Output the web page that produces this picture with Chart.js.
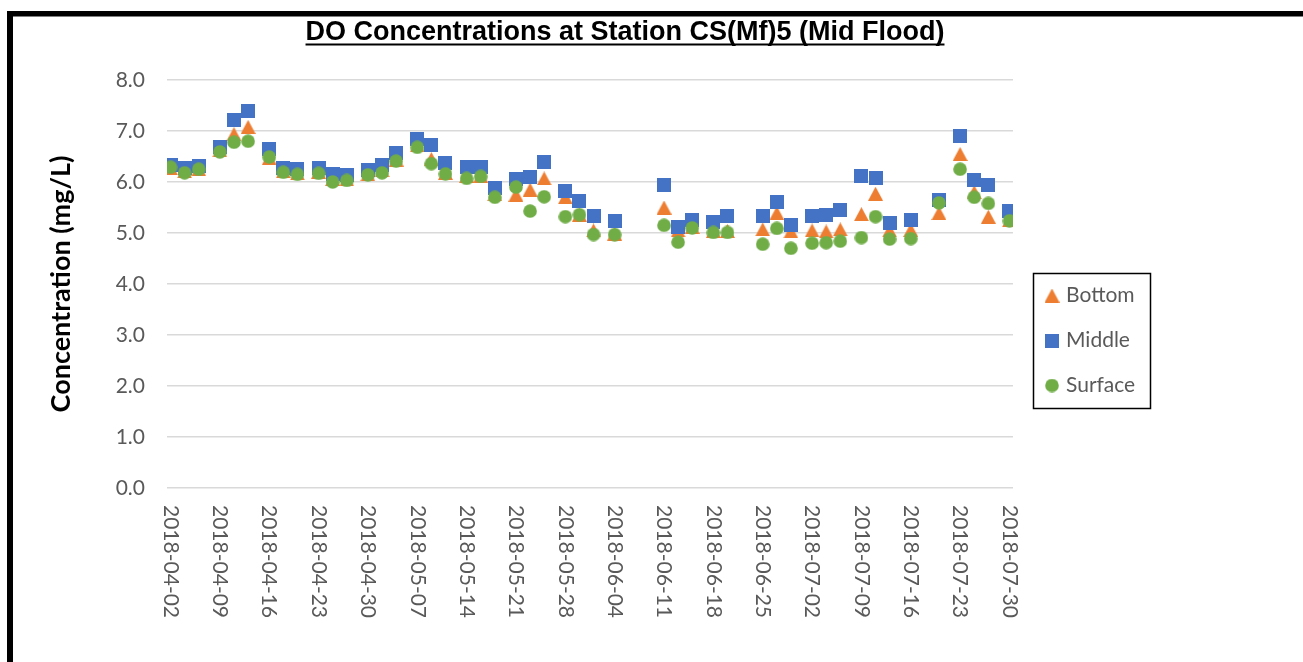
<!DOCTYPE html>
<html>
<head>
<meta charset="utf-8">
<title>DO Concentrations at Station CS(Mf)5 (Mid Flood)</title>
<script src="https://cdn.jsdelivr.net/npm/chart.js@4.4.1/dist/chart.umd.min.js"></script>
<style>
  html, body { margin: 0; padding: 0; background: #ffffff; }
  #wrap { width: 1303px; height: 662px; position: relative; }
</style>
</head>
<body>
<div id="wrap"><canvas id="chart" width="1303" height="662"></canvas></div>
<script>
// Sampling dates (mid-flood surveys)
const sampleDates = [
  '2018-04-02','2018-04-04','2018-04-06','2018-04-09','2018-04-11','2018-04-13',
  '2018-04-16','2018-04-18','2018-04-20','2018-04-23','2018-04-25','2018-04-27',
  '2018-04-30','2018-05-02','2018-05-04','2018-05-07','2018-05-09','2018-05-11',
  '2018-05-14','2018-05-16','2018-05-18','2018-05-21','2018-05-23','2018-05-25',
  '2018-05-28','2018-05-30','2018-06-01','2018-06-04','2018-06-11','2018-06-13',
  '2018-06-15','2018-06-18','2018-06-20','2018-06-25','2018-06-27','2018-06-29',
  '2018-07-02','2018-07-04','2018-07-06','2018-07-09','2018-07-11','2018-07-13',
  '2018-07-16','2018-07-20','2018-07-23','2018-07-25','2018-07-27','2018-07-30'
];

// Dissolved oxygen, mg/L
const bottomDO = [
  6.27, 6.21, 6.25, 6.62, 6.94, 7.08, 6.47, 6.21, 6.17, 6.20, 6.06, 6.05,
  6.15, 6.23, 6.44, 6.72, 6.45, 6.18, 6.12, 6.12, 5.76, 5.75, 5.85, 6.07,
  5.70, 5.36, 5.05, 4.99, 5.50, 5.05, 5.12, 5.04, 5.04, 5.07, 5.39, 5.03,
  5.05, 5.03, 5.07, 5.37, 5.77, 5.05, 5.06, 5.39, 6.55, 5.80, 5.32, 5.25
];
const middleDO = [
  6.33, 6.28, 6.32, 6.68, 7.21, 7.39, 6.64, 6.28, 6.25, 6.28, 6.16, 6.13,
  6.24, 6.33, 6.56, 6.84, 6.72, 6.37, 6.30, 6.29, 5.88, 6.05, 6.10, 6.40,
  5.82, 5.63, 5.33, 5.23, 5.95, 5.11, 5.26, 5.22, 5.33, 5.33, 5.61, 5.15,
  5.33, 5.36, 5.46, 6.11, 6.07, 5.20, 5.25, 5.64, 6.90, 6.04, 5.95, 5.43
];
const surfaceDO = [
  6.29, 6.18, 6.25, 6.59, 6.78, 6.80, 6.49, 6.19, 6.15, 6.17, 6.00, 6.03,
  6.14, 6.18, 6.41, 6.68, 6.36, 6.16, 6.07, 6.11, 5.70, 5.90, 5.43, 5.71,
  5.32, 5.36, 4.97, 4.97, 5.15, 4.82, 5.10, 5.01, 5.01, 4.78, 5.09, 4.70,
  4.80, 4.81, 4.84, 4.91, 5.32, 4.88, 4.89, 5.59, 6.25, 5.70, 5.58, 5.24
];

// Weekly date ticks on the horizontal axis
const tickDates = [
  '2018-04-02','2018-04-09','2018-04-16','2018-04-23','2018-04-30','2018-05-07',
  '2018-05-14','2018-05-21','2018-05-28','2018-06-04','2018-06-11','2018-06-18',
  '2018-06-25','2018-07-02','2018-07-09','2018-07-16','2018-07-23','2018-07-30'
];
// Concentration axis ticks
const yTicks = [0, 1, 2, 3, 4, 5, 6, 7, 8];

const seriesNames = ['Bottom', 'Middle', 'Surface'];
const seriesColors = ['#ED7D31', '#4472C4', '#70AD47'];

// Days since the first tick date
function toUTC(s) { return Date.UTC(+s.slice(0, 4), +s.slice(5, 7) - 1, +s.slice(8, 10)); }
const baseTime = toUTC(tickDates[0]);
function dayOf(s) { return (toUTC(s) - baseTime) / 86400000; }

// Marker images: triangle, square, circle
function makeMarker(shape, color) {
  const c = document.createElement('canvas');
  const g = c.getContext('2d');
  if (shape === 'triangle') {
    c.width = 15; c.height = 14;
    g.beginPath();
    g.moveTo(7.5, 0); g.lineTo(15, 14); g.lineTo(0, 14); g.closePath();
  } else if (shape === 'square') {
    c.width = 14; c.height = 14;
    g.beginPath(); g.rect(0, 0, 14, 14);
  } else {
    c.width = 14; c.height = 14;
    g.beginPath(); g.arc(7, 7, 6.8, 0, Math.PI * 2);
  }
  g.fillStyle = color;
  g.fill();
  return c;
}
const markers = [
  makeMarker('triangle', seriesColors[0]),
  makeMarker('square', seriesColors[1]),
  makeMarker('circle', seriesColors[2])
];

const seriesValues = [bottomDO, middleDO, surfaceDO];
const datasets = seriesValues.map((vals, k) => ({
  label: seriesNames[k],
  data: sampleDates.map((d, i) => ({ x: dayOf(d), y: vals[i] })),
  pointStyle: markers[k],
  pointRadius: 8,
  pointHoverRadius: 8,
  backgroundColor: seriesColors[k],
  borderColor: seriesColors[k],
  showLine: false,
  order: 3 - k
}));

const LABEL_FONT = 'Lato, "Open Sans", sans-serif';
const GREY = '#595959';
const legendBox = { x: 1033, y: 273, w: 117, h: 135 };
const titleCenterX = 625;

// Outer frame (top and left edges visible)
const framePlugin = {
  id: 'frame',
  afterDraw(chart) {
    const ctx = chart.ctx;
    ctx.save();
    ctx.fillStyle = '#000';
    ctx.fillRect(7, 11, chart.width - 7, 5.5);
    ctx.fillRect(7, 11, 6, chart.height - 11);
    ctx.restore();
  }
};

// Place title and legend boxes
const placementPlugin = {
  id: 'placement',
  afterLayout(chart) {
    const t = chart.titleBlock;
    if (t) { t.left = 0; t.right = titleCenterX * 2; }
    const lg = chart.legend;
    if (lg) {
      const pad = lg.options.labels.padding;
      const colH = lg.columnSizes && lg.columnSizes[0] ? lg.columnSizes[0].height : legendBox.h;
      lg.left = legendBox.x + 15.5 - pad;
      lg.right = legendBox.x + legendBox.w;
      // start the items near the top of the box, leaving room below so they stay in one column
      const startY = legendBox.y + (legendBox.h - colH) / 2 + 12;
      lg.bottom = legendBox.y + legendBox.h + 40;
      lg.top = 2 * startY - lg.bottom + colH - pad;
      lg.width = lg.right - lg.left;
      lg.height = lg.bottom - lg.top;
    }
  },
  afterDraw(chart) {
    const ctx = chart.ctx;
    ctx.save();
    // legend border
    ctx.strokeStyle = '#000';
    ctx.lineWidth = 1.5;
    ctx.strokeRect(legendBox.x + 0.5, legendBox.y + 0.5, legendBox.w, legendBox.h);
    // title underline
    const t = chart.titleBlock;
    const to = chart.options.plugins.title;
    ctx.font = `${to.font.weight} ${to.font.size}px ${to.font.family}`;
    const w = ctx.measureText(to.text).width;
    const cx = (t.left + t.right) / 2;
    const cy = t.top + to.padding.top + to.font.size / 2;
    ctx.fillStyle = '#000';
    ctx.fillRect(cx - w / 2, cy + 10.5, w, 2);
    ctx.restore();
  }
};

// Date tick labels, rotated to read top-to-bottom
const dateLabelPlugin = {
  id: 'dateLabels',
  afterDraw(chart) {
    const xs = chart.scales.x;
    const ctx = chart.ctx;
    ctx.save();
    ctx.font = `21px ${LABEL_FONT}`;
    ctx.fillStyle = GREY;
    ctx.textAlign = 'left';
    ctx.textBaseline = 'middle';
    const y0 = chart.chartArea.bottom + 17;
    tickDates.forEach(d => {
      const x = xs.getPixelForValue(dayOf(d));
      ctx.save();
      ctx.translate(x, y0);
      ctx.rotate(Math.PI / 2);
      ctx.fillText(d, 0, 0);
      ctx.restore();
    });
    ctx.restore();
  }
};

Chart.defaults.font.family = LABEL_FONT;
Chart.defaults.color = GREY;

new Chart(document.getElementById('chart'), {
  type: 'scatter',
  data: { datasets },
  options: {
    responsive: false,
    devicePixelRatio: 1,
    animation: false,
    events: [],
    layout: { padding: { left: 0, right: 290, top: 0, bottom: 0 } },
    scales: {
      x: {
        type: 'linear',
        min: dayOf(tickDates[0]) - 0.5,
        max: dayOf(tickDates[tickDates.length - 1]) + 0.5,
        grid: { display: false },
        border: { display: false },
        ticks: { display: false },
        afterBuildTicks(scale) { scale.ticks = tickDates.map(d => ({ value: dayOf(d) })); },
        afterFit(scale) { scale.height = 174; }
      },
      y: {
        min: yTicks[0],
        max: yTicks[yTicks.length - 1],
        afterBuildTicks(scale) { scale.ticks = yTicks.map(v => ({ value: v })); },
        ticks: {
          padding: 22,
          color: GREY,
          font: { family: LABEL_FONT, size: 21 },
          callback: v => Number(v).toFixed(1)
        },
        grid: { color: '#d9d9d9', lineWidth: 1.5, drawTicks: false },
        border: { display: false },
        title: {
          display: true,
          text: 'Concentration (mg/L)',
          color: '#000',
          font: { family: LABEL_FONT, size: 27, weight: 'bold' },
          padding: { top: 45, bottom: 0 }
        },
        afterFit(scale) { scale.width = 167; }
      }
    },
    plugins: {
      title: {
        display: true,
        text: 'DO Concentrations at Station CS(Mf)5 (Mid Flood)',
        color: '#000',
        font: { family: '"Liberation Sans", Arial, sans-serif', size: 27, weight: 'bold', lineHeight: 1 },
        padding: { top: 19.5, bottom: 33.5 }
      },
      legend: {
        position: 'chartArea',
        align: 'center',
        labels: {
          usePointStyle: true,
          boxWidth: 7,
          padding: 24,
          color: GREY,
          font: { family: LABEL_FONT, size: 21 },
          sort: (a, b) => a.datasetIndex - b.datasetIndex
        }
      },
      tooltip: { enabled: false }
    }
  },
  plugins: [placementPlugin, dateLabelPlugin, framePlugin]
});
</script>
</body>
</html>
